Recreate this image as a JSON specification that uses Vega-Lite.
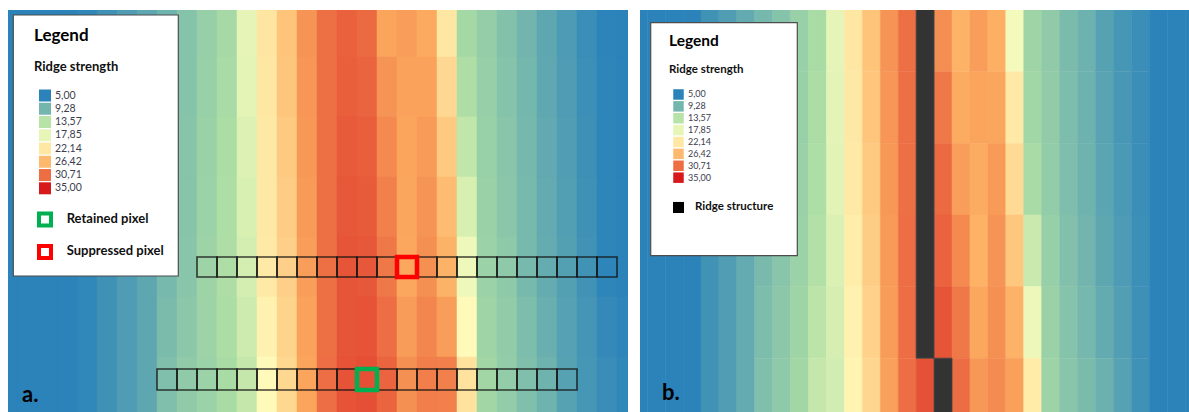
{
  "$schema": "https://vega.github.io/schema/vega-lite/v6.json",
  "background": "white",
  "padding": {"left": 8, "top": 10, "right": 0, "bottom": 0},
  "spacing": 12,
  "config": {"view": {"stroke": null}, "text": {"font": "Lato"}},
  "resolve": {"scale": {"x": "independent", "y": "independent", "yOffset": "independent"}},
  "datasets": {
    "gridA": [
      {"c0":-1,"c1":0,"r0":-1,"r1":20,"v":5.0},
      {"c0":0,"c1":1,"r0":-1,"r1":20,"v":5.0},
      {"c0":1,"c1":2,"r0":-1,"r1":20,"v":5.0},
      {"c0":2,"c1":3,"r0":-1,"r1":20,"v":5.0},
      {"c0":3,"c1":4,"r0":-1,"r1":20,"v":5.3},
      {"c0":4,"c1":5,"r0":-1,"r1":20,"v":6.2},
      {"c0":5,"c1":6,"r0":-1,"r1":20,"v":7.1},
      {"c0":6,"c1":7,"r0":-1,"r1":20,"v":8.0},
      {"c0":7,"c1":8,"r0":-1,"r1":2,"v":9.0},{"c0":7,"c1":8,"r0":2,"r1":5,"v":9.1},{"c0":7,"c1":8,"r0":5,"r1":8,"v":9.2},{"c0":7,"c1":8,"r0":8,"r1":11,"v":9.3},{"c0":7,"c1":8,"r0":11,"r1":14,"v":9.5},{"c0":7,"c1":8,"r0":14,"r1":17,"v":9.7},{"c0":7,"c1":8,"r0":17,"r1":20,"v":10.0},
      {"c0":8,"c1":9,"r0":-1,"r1":2,"v":10.3},{"c0":8,"c1":9,"r0":2,"r1":5,"v":10.3},{"c0":8,"c1":9,"r0":5,"r1":8,"v":10.4},{"c0":8,"c1":9,"r0":8,"r1":11,"v":10.4},{"c0":8,"c1":9,"r0":11,"r1":14,"v":10.5},{"c0":8,"c1":9,"r0":14,"r1":17,"v":10.7},{"c0":8,"c1":9,"r0":17,"r1":20,"v":10.9},
      {"c0":9,"c1":10,"r0":-1,"r1":2,"v":11.3},{"c0":9,"c1":10,"r0":2,"r1":5,"v":11.4},{"c0":9,"c1":10,"r0":5,"r1":8,"v":11.5},{"c0":9,"c1":10,"r0":8,"r1":11,"v":11.6},{"c0":9,"c1":10,"r0":11,"r1":14,"v":11.7},{"c0":9,"c1":10,"r0":14,"r1":17,"v":11.7},{"c0":9,"c1":10,"r0":17,"r1":20,"v":11.6},
      {"c0":10,"c1":11,"r0":-1,"r1":2,"v":12.2},{"c0":10,"c1":11,"r0":2,"r1":5,"v":12.3},{"c0":10,"c1":11,"r0":5,"r1":8,"v":12.5},{"c0":10,"c1":11,"r0":8,"r1":11,"v":12.7},{"c0":10,"c1":11,"r0":11,"r1":14,"v":12.8},{"c0":10,"c1":11,"r0":14,"r1":17,"v":12.6},{"c0":10,"c1":11,"r0":17,"r1":20,"v":12.4},
      {"c0":11,"c1":12,"r0":-1,"r1":2,"v":17.8},{"c0":11,"c1":12,"r0":2,"r1":5,"v":17.5},{"c0":11,"c1":12,"r0":5,"r1":8,"v":17.0},{"c0":11,"c1":12,"r0":8,"r1":11,"v":16.6},{"c0":11,"c1":12,"r0":11,"r1":14,"v":16.2},{"c0":11,"c1":12,"r0":14,"r1":17,"v":15.5},{"c0":11,"c1":12,"r0":17,"r1":20,"v":14.8},
      {"c0":12,"c1":13,"r0":-1,"r1":2,"v":22.3},{"c0":12,"c1":13,"r0":2,"r1":5,"v":22.2},{"c0":12,"c1":13,"r0":5,"r1":8,"v":22.1},{"c0":12,"c1":13,"r0":8,"r1":11,"v":22.1},{"c0":12,"c1":13,"r0":11,"r1":14,"v":22.0},{"c0":12,"c1":13,"r0":14,"r1":17,"v":21.3},{"c0":12,"c1":13,"r0":17,"r1":20,"v":20.5},
      {"c0":13,"c1":14,"r0":-1,"r1":2,"v":25.5},{"c0":13,"c1":14,"r0":2,"r1":5,"v":25.3},{"c0":13,"c1":14,"r0":5,"r1":8,"v":25.0},{"c0":13,"c1":14,"r0":8,"r1":11,"v":24.7},{"c0":13,"c1":14,"r0":11,"r1":14,"v":24.4},{"c0":13,"c1":14,"r0":14,"r1":17,"v":24.0},{"c0":13,"c1":14,"r0":17,"r1":20,"v":23.7},
      {"c0":14,"c1":15,"r0":-1,"r1":2,"v":28.8},{"c0":14,"c1":15,"r0":2,"r1":5,"v":28.7},{"c0":14,"c1":15,"r0":5,"r1":8,"v":28.6},{"c0":14,"c1":15,"r0":8,"r1":11,"v":28.5},{"c0":14,"c1":15,"r0":11,"r1":14,"v":28.3},{"c0":14,"c1":15,"r0":14,"r1":17,"v":28.1},{"c0":14,"c1":15,"r0":17,"r1":20,"v":28.0},
      {"c0":15,"c1":16,"r0":-1,"r1":2,"v":30.6},{"c0":15,"c1":16,"r0":2,"r1":5,"v":30.6},{"c0":15,"c1":16,"r0":5,"r1":8,"v":30.6},{"c0":15,"c1":16,"r0":8,"r1":11,"v":30.6},{"c0":15,"c1":16,"r0":11,"r1":14,"v":30.6},{"c0":15,"c1":16,"r0":14,"r1":17,"v":30.6},{"c0":15,"c1":16,"r0":17,"r1":20,"v":30.7},
      {"c0":16,"c1":17,"r0":-1,"r1":2,"v":31.4},{"c0":16,"c1":17,"r0":2,"r1":5,"v":31.5},{"c0":16,"c1":17,"r0":5,"r1":8,"v":31.7},{"c0":16,"c1":17,"r0":8,"r1":11,"v":31.9},{"c0":16,"c1":17,"r0":11,"r1":14,"v":32.0},{"c0":16,"c1":17,"r0":14,"r1":17,"v":32.0},{"c0":16,"c1":17,"r0":17,"r1":20,"v":32.1},
      {"c0":17,"c1":18,"r0":-1,"r1":2,"v":30.9},{"c0":17,"c1":18,"r0":2,"r1":5,"v":31.2},{"c0":17,"c1":18,"r0":5,"r1":8,"v":31.5},{"c0":17,"c1":18,"r0":8,"r1":11,"v":31.7},{"c0":17,"c1":18,"r0":11,"r1":14,"v":31.9},{"c0":17,"c1":18,"r0":14,"r1":17,"v":32.1},{"c0":17,"c1":18,"r0":17,"r1":20,"v":32.3},
      {"c0":18,"c1":19,"r0":-1,"r1":2,"v":28.0},{"c0":18,"c1":19,"r0":2,"r1":5,"v":28.8},{"c0":18,"c1":19,"r0":5,"r1":8,"v":29.3},{"c0":18,"c1":19,"r0":8,"r1":11,"v":29.8},{"c0":18,"c1":19,"r0":11,"r1":14,"v":30.2},{"c0":18,"c1":19,"r0":14,"r1":17,"v":30.7},{"c0":18,"c1":19,"r0":17,"r1":20,"v":31.2},
      {"c0":19,"c1":20,"r0":-1,"r1":2,"v":28.3},{"c0":19,"c1":20,"r0":2,"r1":5,"v":28.1},{"c0":19,"c1":20,"r0":5,"r1":8,"v":28.0},{"c0":19,"c1":20,"r0":8,"r1":11,"v":27.9},{"c0":19,"c1":20,"r0":11,"r1":14,"v":27.8},{"c0":19,"c1":20,"r0":14,"r1":17,"v":28.4},{"c0":19,"c1":20,"r0":17,"r1":20,"v":29.0},
      {"c0":20,"c1":21,"r0":-1,"r1":2,"v":27.7},{"c0":20,"c1":21,"r0":2,"r1":5,"v":28.1},{"c0":20,"c1":21,"r0":5,"r1":8,"v":28.5},{"c0":20,"c1":21,"r0":8,"r1":11,"v":28.8},{"c0":20,"c1":21,"r0":11,"r1":14,"v":29.0},{"c0":20,"c1":21,"r0":14,"r1":17,"v":29.5},{"c0":20,"c1":21,"r0":17,"r1":20,"v":29.9},
      {"c0":21,"c1":22,"r0":-1,"r1":2,"v":22.2},{"c0":21,"c1":22,"r0":2,"r1":5,"v":23.6},{"c0":21,"c1":22,"r0":5,"r1":8,"v":25.0},{"c0":21,"c1":22,"r0":8,"r1":11,"v":26.2},{"c0":21,"c1":22,"r0":11,"r1":14,"v":27.0},{"c0":21,"c1":22,"r0":14,"r1":17,"v":28.3},{"c0":21,"c1":22,"r0":17,"r1":20,"v":29.8},
      {"c0":22,"c1":23,"r0":-1,"r1":2,"v":12.1},{"c0":22,"c1":23,"r0":2,"r1":5,"v":12.8},{"c0":22,"c1":23,"r0":5,"r1":8,"v":14.5},{"c0":22,"c1":23,"r0":8,"r1":11,"v":16.5},{"c0":22,"c1":23,"r0":11,"r1":14,"v":18.5},{"c0":22,"c1":23,"r0":14,"r1":17,"v":20.5},{"c0":22,"c1":23,"r0":17,"r1":20,"v":22.7},
      {"c0":23,"c1":24,"r0":-1,"r1":2,"v":11.2},{"c0":23,"c1":24,"r0":2,"r1":5,"v":11.3},{"c0":23,"c1":24,"r0":5,"r1":8,"v":11.4},{"c0":23,"c1":24,"r0":8,"r1":11,"v":11.5},{"c0":23,"c1":24,"r0":11,"r1":14,"v":11.6},{"c0":23,"c1":24,"r0":14,"r1":17,"v":11.8},{"c0":23,"c1":24,"r0":17,"r1":20,"v":12.0},
      {"c0":24,"c1":25,"r0":-1,"r1":2,"v":10.2},{"c0":24,"c1":25,"r0":2,"r1":5,"v":10.3},{"c0":24,"c1":25,"r0":5,"r1":8,"v":10.5},{"c0":24,"c1":25,"r0":8,"r1":11,"v":10.6},{"c0":24,"c1":25,"r0":11,"r1":14,"v":10.8},{"c0":24,"c1":25,"r0":14,"r1":17,"v":11.0},{"c0":24,"c1":25,"r0":17,"r1":20,"v":11.1},
      {"c0":25,"c1":26,"r0":-1,"r1":2,"v":9.2},{"c0":25,"c1":26,"r0":2,"r1":5,"v":9.3},{"c0":25,"c1":26,"r0":5,"r1":8,"v":9.4},{"c0":25,"c1":26,"r0":8,"r1":11,"v":9.5},{"c0":25,"c1":26,"r0":11,"r1":14,"v":9.5},{"c0":25,"c1":26,"r0":14,"r1":17,"v":9.8},{"c0":25,"c1":26,"r0":17,"r1":20,"v":10.0},
      {"c0":26,"c1":27,"r0":-1,"r1":2,"v":8.0},{"c0":26,"c1":27,"r0":2,"r1":5,"v":8.1},{"c0":26,"c1":27,"r0":5,"r1":8,"v":8.2},{"c0":26,"c1":27,"r0":8,"r1":11,"v":8.3},{"c0":26,"c1":27,"r0":11,"r1":14,"v":8.4},{"c0":26,"c1":27,"r0":14,"r1":17,"v":8.7},{"c0":26,"c1":27,"r0":17,"r1":20,"v":9.0},
      {"c0":27,"c1":28,"r0":-1,"r1":2,"v":7.0},{"c0":27,"c1":28,"r0":2,"r1":5,"v":7.1},{"c0":27,"c1":28,"r0":5,"r1":8,"v":7.2},{"c0":27,"c1":28,"r0":8,"r1":11,"v":7.3},{"c0":27,"c1":28,"r0":11,"r1":14,"v":7.4},{"c0":27,"c1":28,"r0":14,"r1":17,"v":7.5},{"c0":27,"c1":28,"r0":17,"r1":20,"v":7.6},
      {"c0":28,"c1":29,"r0":-1,"r1":2,"v":5.9},{"c0":28,"c1":29,"r0":2,"r1":5,"v":6.0},{"c0":28,"c1":29,"r0":5,"r1":8,"v":6.1},{"c0":28,"c1":29,"r0":8,"r1":11,"v":6.2},{"c0":28,"c1":29,"r0":11,"r1":14,"v":6.3},{"c0":28,"c1":29,"r0":14,"r1":17,"v":6.5},{"c0":28,"c1":29,"r0":17,"r1":20,"v":6.6},
      {"c0":29,"c1":30,"r0":-1,"r1":2,"v":5.1},{"c0":29,"c1":30,"r0":2,"r1":5,"v":5.2},{"c0":29,"c1":30,"r0":5,"r1":8,"v":5.2},{"c0":29,"c1":30,"r0":8,"r1":11,"v":5.2},{"c0":29,"c1":30,"r0":11,"r1":14,"v":5.2},{"c0":29,"c1":30,"r0":14,"r1":17,"v":5.5},{"c0":29,"c1":30,"r0":17,"r1":20,"v":5.8},
      {"c0":30,"c1":31,"r0":-1,"r1":2,"v":5.0},{"c0":30,"c1":31,"r0":2,"r1":5,"v":5.0},{"c0":30,"c1":31,"r0":5,"r1":8,"v":5.0},{"c0":30,"c1":31,"r0":8,"r1":11,"v":5.0},{"c0":30,"c1":31,"r0":11,"r1":14,"v":5.0},{"c0":30,"c1":31,"r0":14,"r1":17,"v":5.2},{"c0":30,"c1":31,"r0":17,"r1":20,"v":5.3}
    ],
    "gridB": [
      {"c0":-4,"c1":-3,"r0":-1,"r1":23,"v":5.0},
      {"c0":-3,"c1":-2,"r0":-1,"r1":23,"v":5.0},
      {"c0":-2,"c1":-1,"r0":-1,"r1":23,"v":5.0},
      {"c0":-1,"c1":0,"r0":-1,"r1":23,"v":5.0},
      {"c0":0,"c1":1,"r0":-1,"r1":23,"v":6.3},
      {"c0":1,"c1":2,"r0":-1,"r1":23,"v":7.2},
      {"c0":2,"c1":3,"r0":-1,"r1":23,"v":8.3},
      {"c0":3,"c1":4,"r0":-1,"r1":3,"v":9.4},{"c0":3,"c1":4,"r0":3,"r1":7,"v":9.4},{"c0":3,"c1":4,"r0":7,"r1":11,"v":9.5},{"c0":3,"c1":4,"r0":11,"r1":15,"v":9.6},{"c0":3,"c1":4,"r0":15,"r1":19,"v":9.8},{"c0":3,"c1":4,"r0":19,"r1":23,"v":10.0},
      {"c0":4,"c1":5,"r0":-1,"r1":3,"v":10.3},{"c0":4,"c1":5,"r0":3,"r1":7,"v":10.3},{"c0":4,"c1":5,"r0":7,"r1":11,"v":10.4},{"c0":4,"c1":5,"r0":11,"r1":15,"v":10.5},{"c0":4,"c1":5,"r0":15,"r1":19,"v":10.7},{"c0":4,"c1":5,"r0":19,"r1":23,"v":10.8},
      {"c0":5,"c1":6,"r0":-1,"r1":3,"v":11.4},{"c0":5,"c1":6,"r0":3,"r1":7,"v":11.4},{"c0":5,"c1":6,"r0":7,"r1":11,"v":11.5},{"c0":5,"c1":6,"r0":11,"r1":15,"v":11.6},{"c0":5,"c1":6,"r0":15,"r1":19,"v":11.8},{"c0":5,"c1":6,"r0":19,"r1":23,"v":12.0},
      {"c0":6,"c1":7,"r0":-1,"r1":3,"v":12.4},{"c0":6,"c1":7,"r0":3,"r1":7,"v":12.5},{"c0":6,"c1":7,"r0":7,"r1":11,"v":12.7},{"c0":6,"c1":7,"r0":11,"r1":15,"v":13.2},{"c0":6,"c1":7,"r0":15,"r1":19,"v":14.0},{"c0":6,"c1":7,"r0":19,"r1":23,"v":14.8},
      {"c0":7,"c1":8,"r0":-1,"r1":3,"v":17.8},{"c0":7,"c1":8,"r0":3,"r1":7,"v":17.6},{"c0":7,"c1":8,"r0":7,"r1":11,"v":17.3},{"c0":7,"c1":8,"r0":11,"r1":15,"v":16.8},{"c0":7,"c1":8,"r0":15,"r1":19,"v":16.3},{"c0":7,"c1":8,"r0":19,"r1":23,"v":16.0},
      {"c0":8,"c1":9,"r0":-1,"r1":3,"v":22.2},{"c0":8,"c1":9,"r0":3,"r1":7,"v":22.1},{"c0":8,"c1":9,"r0":7,"r1":11,"v":22.0},{"c0":8,"c1":9,"r0":11,"r1":15,"v":21.7},{"c0":8,"c1":9,"r0":15,"r1":19,"v":21.3},{"c0":8,"c1":9,"r0":19,"r1":23,"v":21.0},
      {"c0":9,"c1":10,"r0":-1,"r1":3,"v":25.5},{"c0":9,"c1":10,"r0":3,"r1":7,"v":25.3},{"c0":9,"c1":10,"r0":7,"r1":11,"v":25.0},{"c0":9,"c1":10,"r0":11,"r1":15,"v":24.6},{"c0":9,"c1":10,"r0":15,"r1":19,"v":24.2},{"c0":9,"c1":10,"r0":19,"r1":23,"v":23.8},
      {"c0":10,"c1":11,"r0":-1,"r1":3,"v":28.8},{"c0":10,"c1":11,"r0":3,"r1":7,"v":28.7},{"c0":10,"c1":11,"r0":7,"r1":11,"v":28.6},{"c0":10,"c1":11,"r0":11,"r1":15,"v":28.5},{"c0":10,"c1":11,"r0":15,"r1":19,"v":28.4},{"c0":10,"c1":11,"r0":19,"r1":23,"v":28.2},
      {"c0":11,"c1":12,"r0":-1,"r1":3,"v":30.6},{"c0":11,"c1":12,"r0":3,"r1":7,"v":30.6},{"c0":11,"c1":12,"r0":7,"r1":11,"v":30.6},{"c0":11,"c1":12,"r0":11,"r1":15,"v":30.7},{"c0":11,"c1":12,"r0":15,"r1":19,"v":30.7},{"c0":11,"c1":12,"r0":19,"r1":23,"v":30.7},
      {"c0":12,"c1":13,"r0":-1,"r1":3,"v":31.4},{"c0":12,"c1":13,"r0":3,"r1":7,"v":31.5},{"c0":12,"c1":13,"r0":7,"r1":11,"v":31.7},{"c0":12,"c1":13,"r0":11,"r1":15,"v":31.9},{"c0":12,"c1":13,"r0":15,"r1":19,"v":32.0},{"c0":12,"c1":13,"r0":19,"r1":23,"v":32.2},
      {"c0":13,"c1":14,"r0":-1,"r1":3,"v":29.1},{"c0":13,"c1":14,"r0":3,"r1":7,"v":30.2},{"c0":13,"c1":14,"r0":7,"r1":11,"v":30.9},{"c0":13,"c1":14,"r0":11,"r1":15,"v":31.3},{"c0":13,"c1":14,"r0":15,"r1":19,"v":32.0},{"c0":13,"c1":14,"r0":19,"r1":23,"v":32.3},
      {"c0":14,"c1":15,"r0":-1,"r1":3,"v":27.0},{"c0":14,"c1":15,"r0":3,"r1":7,"v":27.6},{"c0":14,"c1":15,"r0":7,"r1":11,"v":28.3},{"c0":14,"c1":15,"r0":11,"r1":15,"v":29.3},{"c0":14,"c1":15,"r0":15,"r1":19,"v":30.2},{"c0":14,"c1":15,"r0":19,"r1":23,"v":30.8},
      {"c0":15,"c1":16,"r0":-1,"r1":3,"v":28.3},{"c0":15,"c1":16,"r0":3,"r1":7,"v":28.0},{"c0":15,"c1":16,"r0":7,"r1":11,"v":27.6},{"c0":15,"c1":16,"r0":11,"r1":15,"v":27.1},{"c0":15,"c1":16,"r0":15,"r1":19,"v":27.8},{"c0":15,"c1":16,"r0":19,"r1":23,"v":28.6},
      {"c0":16,"c1":17,"r0":-1,"r1":3,"v":27.3},{"c0":16,"c1":17,"r0":3,"r1":7,"v":27.9},{"c0":16,"c1":17,"r0":7,"r1":11,"v":28.5},{"c0":16,"c1":17,"r0":11,"r1":15,"v":28.8},{"c0":16,"c1":17,"r0":15,"r1":19,"v":29.0},{"c0":16,"c1":17,"r0":19,"r1":23,"v":29.2},
      {"c0":17,"c1":18,"r0":-1,"r1":3,"v":19.0},{"c0":17,"c1":18,"r0":3,"r1":7,"v":22.0},{"c0":17,"c1":18,"r0":7,"r1":11,"v":23.4},{"c0":17,"c1":18,"r0":11,"r1":15,"v":25.2},{"c0":17,"c1":18,"r0":15,"r1":19,"v":27.0},{"c0":17,"c1":18,"r0":19,"r1":23,"v":28.2},
      {"c0":18,"c1":19,"r0":-1,"r1":3,"v":11.8},{"c0":18,"c1":19,"r0":3,"r1":7,"v":11.9},{"c0":18,"c1":19,"r0":7,"r1":11,"v":12.3},{"c0":18,"c1":19,"r0":11,"r1":15,"v":15.2},{"c0":18,"c1":19,"r0":15,"r1":19,"v":18.3},{"c0":18,"c1":19,"r0":19,"r1":23,"v":21.8},
      {"c0":19,"c1":20,"r0":-1,"r1":3,"v":10.9},{"c0":19,"c1":20,"r0":3,"r1":7,"v":11.0},{"c0":19,"c1":20,"r0":7,"r1":11,"v":11.1},{"c0":19,"c1":20,"r0":11,"r1":15,"v":11.3},{"c0":19,"c1":20,"r0":15,"r1":19,"v":11.5},{"c0":19,"c1":20,"r0":19,"r1":23,"v":11.7},
      {"c0":20,"c1":21,"r0":-1,"r1":3,"v":9.7},{"c0":20,"c1":21,"r0":3,"r1":7,"v":9.8},{"c0":20,"c1":21,"r0":7,"r1":11,"v":9.9},{"c0":20,"c1":21,"r0":11,"r1":15,"v":10.1},{"c0":20,"c1":21,"r0":15,"r1":19,"v":10.3},{"c0":20,"c1":21,"r0":19,"r1":23,"v":10.5},
      {"c0":21,"c1":22,"r0":-1,"r1":3,"v":8.9},{"c0":21,"c1":22,"r0":3,"r1":7,"v":8.9},{"c0":21,"c1":22,"r0":7,"r1":11,"v":9.0},{"c0":21,"c1":22,"r0":11,"r1":15,"v":9.2},{"c0":21,"c1":22,"r0":15,"r1":19,"v":9.4},{"c0":21,"c1":22,"r0":19,"r1":23,"v":9.7},
      {"c0":22,"c1":23,"r0":-1,"r1":3,"v":7.6},{"c0":22,"c1":23,"r0":3,"r1":7,"v":7.7},{"c0":22,"c1":23,"r0":7,"r1":11,"v":7.8},{"c0":22,"c1":23,"r0":11,"r1":15,"v":8.0},{"c0":22,"c1":23,"r0":15,"r1":19,"v":8.3},{"c0":22,"c1":23,"r0":19,"r1":23,"v":8.8},
      {"c0":23,"c1":24,"r0":-1,"r1":3,"v":6.6},{"c0":23,"c1":24,"r0":3,"r1":7,"v":6.7},{"c0":23,"c1":24,"r0":7,"r1":11,"v":6.8},{"c0":23,"c1":24,"r0":11,"r1":15,"v":7.0},{"c0":23,"c1":24,"r0":15,"r1":19,"v":7.3},{"c0":23,"c1":24,"r0":19,"r1":23,"v":7.6},
      {"c0":24,"c1":25,"r0":-1,"r1":3,"v":5.9},{"c0":24,"c1":25,"r0":3,"r1":7,"v":5.9},{"c0":24,"c1":25,"r0":7,"r1":11,"v":5.9},{"c0":24,"c1":25,"r0":11,"r1":15,"v":6.0},{"c0":24,"c1":25,"r0":15,"r1":19,"v":6.1},{"c0":24,"c1":25,"r0":19,"r1":23,"v":6.2},
      {"c0":25,"c1":26,"r0":-1,"r1":23,"v":5.0},
      {"c0":26,"c1":27,"r0":-1,"r1":23,"v":5.0},
      {"c0":27,"c1":28,"r0":-1,"r1":23,"v":5.0}
    ],
    "boxesA": [
      {"c0":9,"c1":10,"r0":12,"r1":13},{"c0":10,"c1":11,"r0":12,"r1":13},{"c0":11,"c1":12,"r0":12,"r1":13},{"c0":12,"c1":13,"r0":12,"r1":13},{"c0":13,"c1":14,"r0":12,"r1":13},{"c0":14,"c1":15,"r0":12,"r1":13},{"c0":15,"c1":16,"r0":12,"r1":13},{"c0":16,"c1":17,"r0":12,"r1":13},{"c0":17,"c1":18,"r0":12,"r1":13},{"c0":18,"c1":19,"r0":12,"r1":13},{"c0":19,"c1":20,"r0":12,"r1":13},{"c0":20,"c1":21,"r0":12,"r1":13},{"c0":21,"c1":22,"r0":12,"r1":13},{"c0":22,"c1":23,"r0":12,"r1":13},{"c0":23,"c1":24,"r0":12,"r1":13},{"c0":24,"c1":25,"r0":12,"r1":13},{"c0":25,"c1":26,"r0":12,"r1":13},{"c0":26,"c1":27,"r0":12,"r1":13},{"c0":27,"c1":28,"r0":12,"r1":13},{"c0":28,"c1":29,"r0":12,"r1":13},{"c0":29,"c1":30,"r0":12,"r1":13},
      {"c0":7,"c1":8,"r0":17.6,"r1":18.65},{"c0":8,"c1":9,"r0":17.6,"r1":18.65},{"c0":9,"c1":10,"r0":17.6,"r1":18.65},{"c0":10,"c1":11,"r0":17.6,"r1":18.65},{"c0":11,"c1":12,"r0":17.6,"r1":18.65},{"c0":12,"c1":13,"r0":17.6,"r1":18.65},{"c0":13,"c1":14,"r0":17.6,"r1":18.65},{"c0":14,"c1":15,"r0":17.6,"r1":18.65},{"c0":15,"c1":16,"r0":17.6,"r1":18.65},{"c0":16,"c1":17,"r0":17.6,"r1":18.65},{"c0":17,"c1":18,"r0":17.6,"r1":18.65},{"c0":18,"c1":19,"r0":17.6,"r1":18.65},{"c0":19,"c1":20,"r0":17.6,"r1":18.65},{"c0":20,"c1":21,"r0":17.6,"r1":18.65},{"c0":21,"c1":22,"r0":17.6,"r1":18.65},{"c0":22,"c1":23,"r0":17.6,"r1":18.65},{"c0":23,"c1":24,"r0":17.6,"r1":18.65},{"c0":24,"c1":25,"r0":17.6,"r1":18.65},{"c0":25,"c1":26,"r0":17.6,"r1":18.65},{"c0":26,"c1":27,"r0":17.6,"r1":18.65},{"c0":27,"c1":28,"r0":17.6,"r1":18.65}
    ],
    "picksA": [
      {"c0":19,"c1":20,"r0":12,"r1":13,"kind":"Suppressed pixel"},
      {"c0":17,"c1":18,"r0":17.6,"r1":18.65,"kind":"Retained pixel"}
    ],
    "ridgeB": [
      {"c0":12,"c1":13,"r0":-1,"r1":19},
      {"c0":13,"c1":14,"r0":19,"r1":23}
    ],
    "classes": [
      {"v":5.0,"label":"5,00"},
      {"v":9.28,"label":"9,28"},
      {"v":13.57,"label":"13,57"},
      {"v":17.85,"label":"17,85"},
      {"v":22.14,"label":"22,14"},
      {"v":26.42,"label":"26,42"},
      {"v":30.71,"label":"30,71"},
      {"v":35.0,"label":"35,00"}
    ]
  },
  "hconcat": [
    {
      "width": 620,
      "height": 402,
      "layer": [
        {
          "data": {"name": "gridA"},
          "mark": {"type": "rect", "clip": true, "strokeWidth": 0.5},
          "encoding": {
            "x": {"field": "c0", "type": "quantitative", "scale": {"domain": [-0.45, 30.55], "nice": false, "zero": false}, "axis": null},
            "x2": {"field": "c1"},
            "y": {"field": "r0", "type": "quantitative", "scale": {"domain": [-0.35, 19.75], "nice": false, "zero": false, "reverse": true}, "axis": null},
            "y2": {"field": "r1"},
            "color": {"field": "v", "type": "quantitative", "scale": {"domain": [5, 12.5, 20, 27.5, 35], "range": ["#2b83ba", "#abdda4", "#ffffbf", "#fdae61", "#d7191c"], "interpolate": "rgb"}, "legend": null},
            "stroke": {"field": "v", "type": "quantitative", "scale": {"domain": [5, 12.5, 20, 27.5, 35], "range": ["#2b83ba", "#abdda4", "#ffffbf", "#fdae61", "#d7191c"], "interpolate": "rgb"}, "legend": null}
          }
        },
        {
          "data": {"name": "boxesA"},
          "mark": {"type": "rect", "fillOpacity": 0, "stroke": "#111111", "strokeOpacity": 0.8, "strokeWidth": 1.6},
          "encoding": {
            "x": {"field": "c0", "type": "quantitative"},
            "x2": {"field": "c1"},
            "y": {"field": "r0", "type": "quantitative"},
            "y2": {"field": "r1"}
          }
        },
        {
          "data": {"name": "picksA"},
          "mark": {"type": "rect", "fillOpacity": 0, "strokeWidth": 4.5},
          "encoding": {
            "x": {"field": "c0", "type": "quantitative"},
            "x2": {"field": "c1"},
            "y": {"field": "r0", "type": "quantitative"},
            "y2": {"field": "r1"},
            "stroke": {"field": "kind", "type": "nominal", "scale": {"domain": ["Retained pixel", "Suppressed pixel"], "range": ["#00b050", "#ff0000"]}, "legend": null}
          }
        },
        {
          "data": {"values": [{"t": "Legend"}]},
          "mark": {"type": "rect", "fill": "white", "stroke": "#4d4d4d", "strokeWidth": 1.2},
          "encoding": {
            "x": {"datum": -0.185, "type": "quantitative"},
            "x2": {"datum": 8.065},
            "y": {"datum": -0.1, "type": "quantitative"},
            "y2": {"datum": 12.95}
          }
        },
        {
          "data": {"values": [{"t": "Legend"}]},
          "mark": {"type": "text", "align": "left", "baseline": "alphabetic", "fontSize": 17, "fontWeight": "bold", "color": "#000000"},
          "encoding": {
            "x": {"datum": 0.85, "type": "quantitative"},
            "y": {"datum": 1.2, "type": "quantitative"},
            "text": {"field": "t"}
          }
        },
        {
          "data": {"values": [{"t": "Ridge strength"}]},
          "mark": {"type": "text", "align": "left", "baseline": "alphabetic", "fontSize": 13, "fontWeight": "bold", "color": "#111111"},
          "encoding": {
            "x": {"datum": 0.85, "type": "quantitative"},
            "y": {"datum": 2.7, "type": "quantitative"},
            "text": {"field": "t"}
          }
        },
        {
          "data": {"name": "classes"},
          "mark": {"type": "square", "size": 144, "opacity": 1},
          "encoding": {
            "x": {"datum": 1.4, "type": "quantitative"},
            "y": {"datum": 3.925, "type": "quantitative"},
            "yOffset": {"field": "v", "type": "quantitative", "scale": {"domain": [5, 35], "range": [0, 92.8]}},
            "color": {"field": "v", "type": "quantitative"}
          }
        },
        {
          "data": {"name": "classes"},
          "mark": {"type": "text", "align": "left", "baseline": "middle", "fontSize": 10.5, "color": "#3d3d4d"},
          "encoding": {
            "x": {"datum": 1.9, "type": "quantitative"},
            "y": {"datum": 3.925, "type": "quantitative"},
            "yOffset": {"field": "v", "type": "quantitative", "scale": {"domain": [5, 35], "range": [0, 92.8]}},
            "text": {"field": "label"}
          }
        },
        {
          "data": {"values": [{"t": "Retained pixel"}]},
          "mark": {"type": "rect", "fill": "white", "stroke": "#00b050", "strokeWidth": 4},
          "encoding": {
            "x": {"datum": 1.1, "type": "quantitative"},
            "x2": {"datum": 1.7},
            "y": {"datum": 9.825, "type": "quantitative"},
            "y2": {"datum": 10.425}
          }
        },
        {
          "data": {"values": [{"t": "Retained pixel"}]},
          "mark": {"type": "text", "align": "left", "baseline": "middle", "fontSize": 13, "fontWeight": "bold", "color": "#111111"},
          "encoding": {
            "x": {"datum": 2.485, "type": "quantitative"},
            "y": {"datum": 10.1, "type": "quantitative"},
            "text": {"field": "t"}
          }
        },
        {
          "data": {"values": [{"t": "Suppressed pixel"}]},
          "mark": {"type": "rect", "fill": "white", "stroke": "#ff0000", "strokeWidth": 4},
          "encoding": {
            "x": {"datum": 1.1, "type": "quantitative"},
            "x2": {"datum": 1.7},
            "y": {"datum": 11.45, "type": "quantitative"},
            "y2": {"datum": 12.05}
          }
        },
        {
          "data": {"values": [{"t": "Suppressed pixel"}]},
          "mark": {"type": "text", "align": "left", "baseline": "middle", "fontSize": 13, "fontWeight": "bold", "color": "#111111"},
          "encoding": {
            "x": {"datum": 2.485, "type": "quantitative"},
            "y": {"datum": 11.7, "type": "quantitative"},
            "text": {"field": "t"}
          }
        },
        {
          "data": {"values": [{"t": "a."}]},
          "mark": {"type": "text", "align": "left", "baseline": "alphabetic", "fontSize": 22, "fontWeight": "bold", "color": "#000000"},
          "encoding": {
            "x": {"datum": 0.25, "type": "quantitative"},
            "y": {"datum": 19.25, "type": "quantitative"},
            "text": {"field": "t"}
          }
        }
      ]
    },
    {
      "width": 549,
      "height": 402,
      "layer": [
        {
          "data": {"name": "gridB"},
          "mark": {"type": "rect", "clip": true, "strokeWidth": 0.5},
          "encoding": {
            "x": {"field": "c0", "type": "quantitative", "scale": {"domain": [-3.402, 27.217], "nice": false, "zero": false}, "axis": null},
            "x2": {"field": "c1"},
            "y": {"field": "r0", "type": "quantitative", "scale": {"domain": [-0.458, 22.01], "nice": false, "zero": false, "reverse": true}, "axis": null},
            "y2": {"field": "r1"},
            "color": {"field": "v", "type": "quantitative", "scale": {"domain": [5, 12.5, 20, 27.5, 35], "range": ["#2b83ba", "#abdda4", "#ffffbf", "#fdae61", "#d7191c"], "interpolate": "rgb"}, "legend": null},
            "stroke": {"field": "v", "type": "quantitative", "scale": {"domain": [5, 12.5, 20, 27.5, 35], "range": ["#2b83ba", "#abdda4", "#ffffbf", "#fdae61", "#d7191c"], "interpolate": "rgb"}, "legend": null}
          }
        },
        {
          "data": {"name": "ridgeB"},
          "mark": {"type": "rect", "clip": true, "fill": "#333333", "stroke": "#474747", "strokeWidth": 0.8},
          "encoding": {
            "x": {"field": "c0", "type": "quantitative"},
            "x2": {"field": "c1"},
            "y": {"field": "r0", "type": "quantitative"},
            "y2": {"field": "r1"}
          }
        },
        {
          "data": {"values": [{"t": "Legend"}]},
          "mark": {"type": "rect", "fill": "white", "stroke": "#4d4d4d", "strokeWidth": 1.2},
          "encoding": {
            "x": {"datum": -2.805, "type": "quantitative"},
            "x2": {"datum": 5.371},
            "y": {"datum": 0.251, "type": "quantitative"},
            "y2": {"datum": 13.268}
          }
        },
        {
          "data": {"values": [{"t": "Legend"}]},
          "mark": {"type": "text", "align": "left", "baseline": "alphabetic", "fontSize": 15.5, "fontWeight": "bold", "color": "#000000"},
          "encoding": {
            "x": {"datum": -1.785, "type": "quantitative"},
            "y": {"datum": 1.553, "type": "quantitative"},
            "text": {"field": "t"}
          }
        },
        {
          "data": {"values": [{"t": "Ridge strength"}]},
          "mark": {"type": "text", "align": "left", "baseline": "alphabetic", "fontSize": 11.5, "fontWeight": "bold", "color": "#111111"},
          "encoding": {
            "x": {"datum": -1.785, "type": "quantitative"},
            "y": {"datum": 3.06, "type": "quantitative"},
            "text": {"field": "t"}
          }
        },
        {
          "data": {"name": "classes"},
          "mark": {"type": "square", "size": 110, "opacity": 1},
          "encoding": {
            "x": {"datum": -1.255, "type": "quantitative"},
            "y": {"datum": 4.263, "type": "quantitative"},
            "yOffset": {"field": "v", "type": "quantitative", "scale": {"domain": [5, 35], "range": [0, 83.2]}},
            "color": {"field": "v", "type": "quantitative"}
          }
        },
        {
          "data": {"name": "classes"},
          "mark": {"type": "text", "align": "left", "baseline": "middle", "fontSize": 9, "color": "#3d3d4d"},
          "encoding": {
            "x": {"datum": -0.725, "type": "quantitative"},
            "y": {"datum": 4.263, "type": "quantitative"},
            "yOffset": {"field": "v", "type": "quantitative", "scale": {"domain": [5, 35], "range": [0, 83.2]}},
            "text": {"field": "label"}
          }
        },
        {
          "data": {"values": [{"t": "Ridge structure"}]},
          "mark": {"type": "rect", "fill": "#000000"},
          "encoding": {
            "x": {"datum": -1.562, "type": "quantitative"},
            "x2": {"datum": -0.948},
            "y": {"datum": 10.27, "type": "quantitative"},
            "y2": {"datum": 10.888}
          }
        },
        {
          "data": {"values": [{"t": "Ridge structure"}]},
          "mark": {"type": "text", "align": "left", "baseline": "middle", "fontSize": 11.5, "fontWeight": "bold", "color": "#111111"},
          "encoding": {
            "x": {"datum": -0.335, "type": "quantitative"},
            "y": {"datum": 10.575, "type": "quantitative"},
            "text": {"field": "t"}
          }
        },
        {
          "data": {"values": [{"t": "b."}]},
          "mark": {"type": "text", "align": "left", "baseline": "alphabetic", "fontSize": 22, "fontWeight": "bold", "color": "#000000"},
          "encoding": {
            "x": {"datum": -2.175, "type": "quantitative"},
            "y": {"datum": 21.33, "type": "quantitative"},
            "text": {"field": "t"}
          }
        }
      ]
    }
  ]
}
